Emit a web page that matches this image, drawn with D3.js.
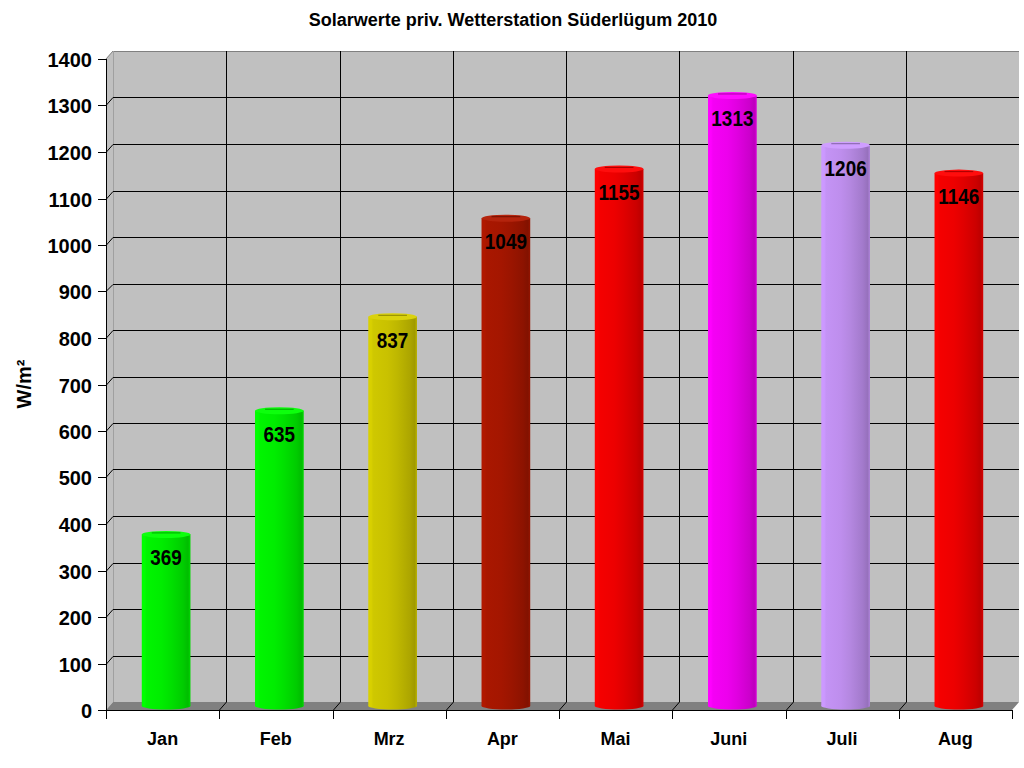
<!DOCTYPE html>
<html><head><meta charset="utf-8">
<script src="https://cdn.jsdelivr.net/npm/d3@7"></script>
<style>body{margin:0;background:#fff}svg{display:block}text{font-family:Arial,"Liberation Sans",sans-serif;font-weight:bold}</style>
</head><body>
<script>
const months = ["Jan","Feb","Mrz","Apr","Mai","Juni","Juli","Aug"];
const values = [369,635,837,1049,1155,1313,1206,1146];
const barColors = ["#00ff00","#00ff00","#d8d000","#b01800","#ff0000","#ff00ff","#cc99ff","#ff0000"];
const yTicks = [0,100,200,300,400,500,600,700,800,900,1000,1100,1200,1300,1400];
const title = "Solarwerte priv. Wetterstation Süderlügum 2010";
const yTitle = "W/m²";

const W=1024,H=768;
const svg=d3.select("body").append("svg").attr("width",W).attr("height",H);
const dx=7, dy=-8;
const x0=106, x1=1012;
const yFront=d3.scaleLinear().domain([0,1400]).range([710,59]);
const yBack=d3.scaleLinear().domain([0,1400]).range([710+dy,59+dy]);
const yMid=d3.scaleLinear().domain([0,1400]).range([710+dy/2,59+dy/2]);
const x=d3.scaleBand().domain(months).range([x0,x1]).paddingInner(0).paddingOuter(0);
const bw=x.bandwidth();

// back wall
svg.append("rect").attr("x",x0+dx).attr("y",yBack(1400)).attr("width",x1-x0).attr("height",yBack(0)-yBack(1400)).attr("fill","#c0c0c0");
// side wall
svg.append("polygon").attr("points",[[x0,yFront(1400)],[x0+dx,yBack(1400)],[x0+dx,yBack(0)],[x0,yFront(0)]].map(p=>p.join(",")).join(" ")).attr("fill","#c0c0c0");
// floor
svg.append("polygon").attr("points",[[x0,yFront(0)],[x0+dx,yBack(0)],[x1+dx,yBack(0)],[x1,yFront(0)]].map(p=>p.join(",")).join(" ")).attr("fill","#808080");
// wall borders
svg.append("line").attr("x1",x0+dx).attr("x2",x1+dx).attr("y1",yBack(1400)+0.5).attr("y2",yBack(1400)+0.5).attr("stroke","#808080");
svg.append("line").attr("x1",x0+dx+0.5).attr("x2",x0+dx+0.5).attr("y1",yBack(1400)).attr("y2",yBack(0)).attr("stroke","#a0a0a0");
svg.append("line").attr("x1",x0).attr("x2",x0+dx).attr("y1",yFront(1400)).attr("y2",yBack(1400)).attr("stroke","#808080");

// horizontal gridlines
const g=svg.append("g").attr("stroke","#000").attr("stroke-width",1);
yTicks.filter(t=>t>0&&t<1400).forEach(t=>{
  const yb=Math.round(yBack(t))+0.5, yf=Math.round(yFront(t))+0.5;
  g.append("line").attr("x1",x0+dx).attr("x2",x1+dx).attr("y1",yb).attr("y2",yb);
  g.append("line").attr("x1",x0).attr("x2",x0+dx).attr("y1",yf).attr("y2",yb);
});
// vertical gridlines + floor diagonals
months.slice(1).forEach(m=>{
  const xf=Math.round(x(m))+0.5, xb=xf+dx;
  g.append("line").attr("x1",xb).attr("x2",xb).attr("y1",yBack(1400)).attr("y2",yBack(0));
  g.append("line").attr("x1",xb).attr("x2",xf).attr("y1",yBack(0)).attr("y2",yFront(0));
});

// gradients
const defs=svg.append("defs");
barColors.forEach((c,i)=>{
  const gr=defs.append("linearGradient").attr("id","g"+i).attr("x1","0%").attr("x2","100%").attr("y1","0%").attr("y2","0%");
  const mix=t=>d3.interpolateRgb(c,"#000")(t);
  [[0,mix(0)],[0.06,mix(0)],[0.1,mix(0.04)],[0.4,mix(0.07)],[0.6,mix(0.12)],[0.85,mix(0.2)],[0.95,mix(0.26)],[1,mix(0.15)]]
    .forEach(([o,col])=>gr.append("stop").attr("offset",o).attr("stop-color",col));
});

// bars
const barW=bw*0.43;
const bars=svg.append("g");
months.forEach((m,i)=>{
  const cx=x(m)+bw/2+dx/2;
  const top=yMid(values[i]), base=yMid(0);
  const gg=bars.append("g");
  gg.append("ellipse").attr("cx",cx).attr("cy",base).attr("rx",barW/2).attr("ry",3.5).attr("fill","url(#g"+i+")");
  gg.append("rect").attr("x",cx-barW/2).attr("y",top).attr("width",barW).attr("height",base-top).attr("fill","url(#g"+i+")");
  gg.append("ellipse").attr("cx",cx).attr("cy",top).attr("rx",barW/2).attr("ry",3.5).attr("fill",d3.interpolateRgb(barColors[i],"#fff")(0.05));
  gg.append("line").attr("x1",cx-barW/2+10).attr("x2",cx+barW/2-10).attr("y1",top-1.5).attr("y2",top-1.5).attr("stroke",d3.interpolateRgb(barColors[i],"#000")(0.35)).attr("stroke-width",1);
  gg.append("text").attr("transform",`translate(${cx},${top+31}) scale(0.86,1)`).attr("text-anchor","middle").attr("font-size",22).attr("fill","#000").text(values[i]);
});

// axes
svg.append("line").attr("x1",x0+0.5).attr("x2",x0+0.5).attr("y1",yFront(1400)).attr("y2",yFront(0)).attr("stroke","#000");
svg.append("line").attr("x1",x0).attr("x2",x1+1).attr("y1",yFront(0)+0.5).attr("y2",yFront(0)+0.5).attr("stroke","#000");
const yAx=svg.append("g");
yTicks.forEach(t=>{
  const y=Math.round(yFront(t))+0.5;
  yAx.append("line").attr("x1",x0-8).attr("x2",x0).attr("y1",y).attr("y2",y).attr("stroke","#000");
  yAx.append("text").attr("x",92).attr("y",y).attr("dy","0.36em").attr("text-anchor","end").attr("font-size",20).text(t);
});
const ticksX=months.map(m=>x(m)).concat([x1]);
ticksX.forEach(tx=>{
  const xx=Math.round(tx)+0.5;
  svg.append("line").attr("x1",xx).attr("x2",xx).attr("y1",yFront(0)).attr("y2",yFront(0)+9).attr("stroke","#000");
});
months.forEach(m=>{
  svg.append("text").attr("x",x(m)+bw/2).attr("y",745).attr("text-anchor","middle").attr("font-size",18).text(m);
});

// titles
svg.append("text").attr("x",513).attr("y",26).attr("text-anchor","middle").attr("font-size",18).text(title);
svg.append("text").attr("transform","translate(31,384) rotate(-90)").attr("text-anchor","middle").attr("font-size",20).text(yTitle);
</script>
</body></html>
